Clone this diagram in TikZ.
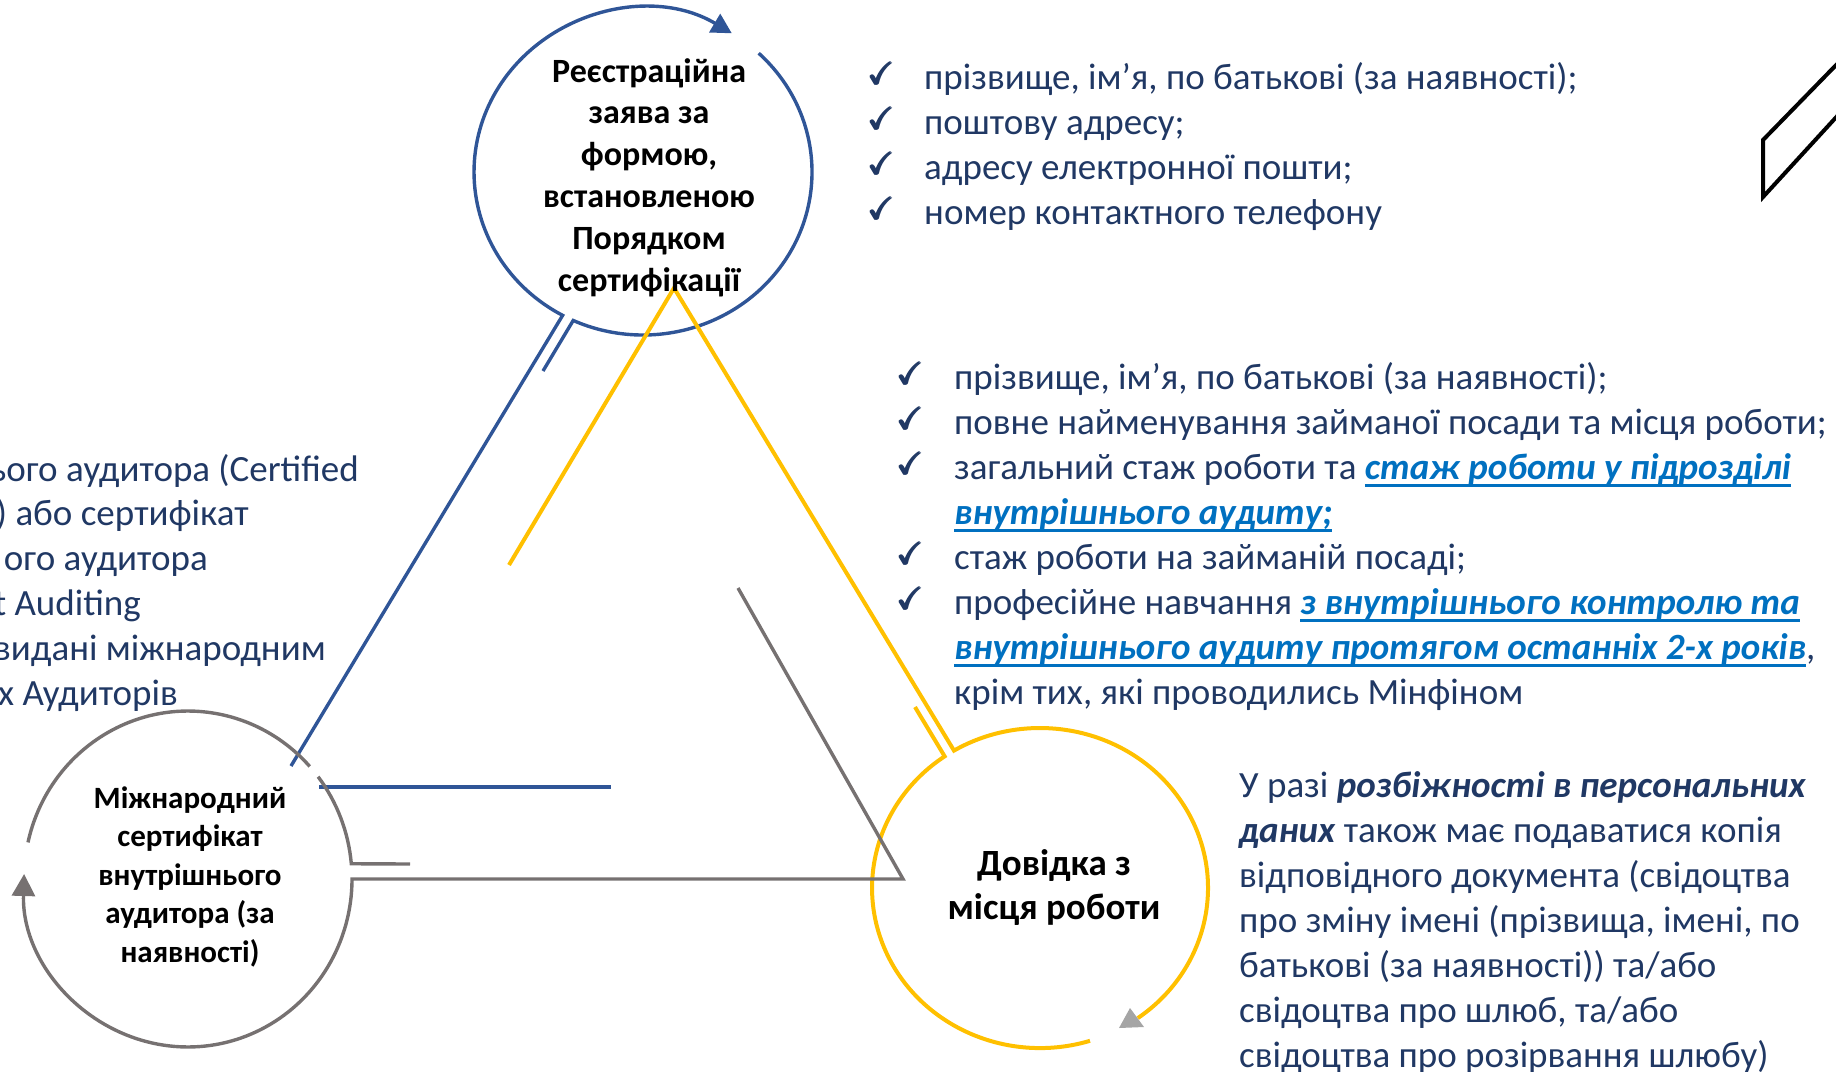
\documentclass[tikz,border=0pt]{standalone}
\usepackage{fontspec}
\setmainfont{Carlito}
\usepackage{amssymb}
\usetikzlibrary{arrows.meta}

\definecolor{navy}{HTML}{203864}
\definecolor{ringblue}{HTML}{2F5597}
\definecolor{ringyellow}{HTML}{FFC000}
\definecolor{ringgray}{HTML}{767171}
\definecolor{tipgray}{HTML}{A5A5A5}
\definecolor{linkblue}{HTML}{0070C0}

% underlined link text
\newsavebox\lnkbox
\newcommand{\lnk}[1]{\begingroup\color{linkblue}\sbox\lnkbox{\bfseries\itshape #1}%
  \rlap{\rule[-7pt]{\wd\lnkbox}{3pt}}\usebox\lnkbox\endgroup}
% heavier check mark
\newcommand{\tickmark}{\rlap{$\checkmark$}\rlap{\kern1pt$\checkmark$}%
  \rlap{\kern2pt$\checkmark$}\rlap{\raisebox{1pt}{$\checkmark$}}%
  \kern1pt\raisebox{1pt}{$\checkmark$}}

\begin{document}
\begin{tikzpicture}[x=1pt,y=1pt,
  ring/.style={line width=3.4pt},
  item/.style={anchor=base west,inner sep=0pt,text=navy,font=\fontsize{37}{45}\selectfont},
  side/.style={anchor=base east,inner sep=0pt,text=navy,font=\fontsize{37}{45}\selectfont},
  tick/.style={anchor=base west,inner sep=0pt,text=navy,font=\fontsize{31}{45}\selectfont},
  title/.style={align=center,inner sep=0pt,font=\bfseries}]

\useasboundingbox (0,0) rectangle (1836,-1071);
\clip (0,0) rectangle (1836,-1071);

% Ends of the three rings.
\coordinate (b1) at (731.8,-33.3);
\coordinate (b2) at (758.7,-53.2);
\coordinate (bv) at (291,-766);
\coordinate (bs) at (543,-371);
\coordinate (bh1) at (319,-787);
\coordinate (bh2) at (611,-787);

\coordinate (y1) at (1137.8,-1018.1);
\coordinate (y2) at (1090,-1040.8);
\coordinate (yt) at (674,-288);
\coordinate (ye) at (509,-565);
\coordinate (ys) at (915,-707);

\coordinate (g1) at (24.1,-874);
\coordinate (g2) at (28,-842.4);
\coordinate (g3) at (318.1,-776.7);
\coordinate (gs) at (410,-864);
\coordinate (gv) at (903,-879);
\coordinate (gt) at (738,-588);

% Draw blue ring and its side.
\draw[ring,ringblue,{Triangle[length=20pt,width=21pt]}-] (b1) arc[start angle=58.3,end angle=241.6,x radius=169,y radius=163] -- (bv);
\draw[ring,ringblue] (b2) arc[start angle=46.8,end angle=-114.4,x radius=169,y radius=163] -- (bs);
\draw[ring,ringblue] (bh1) -- (bh2);

% Draw yellow ring and its side.
\draw[ring,ringyellow,line width=4pt] (y1) arc[start angle=-54.4,end angle=120.8,x radius=168,y radius=160] -- (yt) -- (ye);
\draw[ring,ringyellow,line width=4pt] (y2) arc[start angle=-72.7,end angle=-235.4,x radius=168,y radius=160] -- (ys);
\fill[tipgray] (1119,-1028) -- (1130,-1008) -- (1144,-1027) -- cycle;

% Draw gray ring and its side.
\draw[ring,ringgray,{Triangle[length=22pt,width=23pt]}-] (g1) arc[start angle=178.3,end angle=360,x radius=164,y radius=168] -- (gv) -- (gt);
\draw[ring,ringgray] (g2) arc[start angle=167.4,end angle=42.1,x radius=164,y radius=168];
\draw[ring,ringgray] (g3) arc[start angle=37.5,end angle=5.2,x radius=164,y radius=168] -- (gs);

% Corner mark.
\draw[line width=4pt] (1840,-61) -- (1763,-140) -- (1763,-197) -- (1840,-113);

% Texts in the rings.
\node[title,font=\bfseries\fontsize{34}{41.8}\selectfont] (reg) at (649,-177.5)
  {Реєстраційна\\заява за\\формою,\\встановленою\\Порядком\\сертифікації};
\node[title,font=\bfseries\fontsize{31}{38.5}\selectfont] (cert) at (190,-876.5)
  {Міжнародний\\сертифікат\\внутрішнього\\аудитора (за\\наявності)};
\node[title,font=\bfseries\fontsize{37}{44.5}\selectfont] (work) at (1054,-887.5)
  {Довідка з\\місця роботи};

% Top list.
\foreach \t [count=\i] in {{прізвище, ім’я, по батькові (за наявності);},поштову адресу;,адресу електронної пошти;,номер контактного телефону} {
  \node[tick] (tt\i) at (867,{-84-45*(\i-1)}) {\tickmark};
  \node[item] (ti\i) at (924,{-89.5-45*(\i-1)}) {\t};
}

% Middle list.
\foreach \i in {1,2,3,5,6}
  \node[tick] (mt\i) at (896,{-384-45*(\i-1)}) {\tickmark};
\node[item] (m1) at (954,-389.5) {прізвище, ім’я, по батькові (за наявності);};
\node[item] (m2) at (954,-434.5) {повне найменування займаної посади та місця роботи;};
\node[item] (m3) at (954,-479.5) {загальний стаж роботи та \lnk{стаж роботи у підрозділі}};
\node[item] (m4) at (954,-524.5) {\lnk{внутрішнього аудиту;}};
\node[item] (m5) at (954,-569.5) {стаж роботи на займаній посаді;};
\node[item] (m6) at (954,-614.5) {професійне навчання \lnk{з внутрішнього контролю та}};
\node[item] (m7) at (954,-659.5) {\lnk{внутрішнього аудиту протягом останніх 2-х років},};
\node[item] (m8) at (954,-704.5) {крім тих, які проводились Мінфіном};

% Note at the bottom right.
\foreach \t [count=\i] in {У разі \textbf{\textit{розбіжності в персональних}},\textbf{\textit{даних}} також має подаватися копія,відповідного документа (свідоцтва,{про зміну імені (прізвища, імені, по},батькові (за наявності)) та/або,{свідоцтва про шлюб, та/або},свідоцтва про розірвання шлюбу)}
  \node[item] (n\i) at (1239,{-797.5-45*(\i-1)}) {\t};

% Text cut by the left edge.
\node[side] (s1) at (359,-481.5) {ього аудитора (Certified};
\node[side] (s2) at (249,-525.5) {) або сертифікат};
\node[side] (s3) at (208,-570.5) {ого аудитора};
\node[side] (s4) at (141,-615.5) {t Auditing};
\node[side] (s5) at (326,-660.5) {видані міжнародним};
\node[side] (s6) at (178,-705.5) {х Аудиторів};

\end{tikzpicture}
\end{document}
